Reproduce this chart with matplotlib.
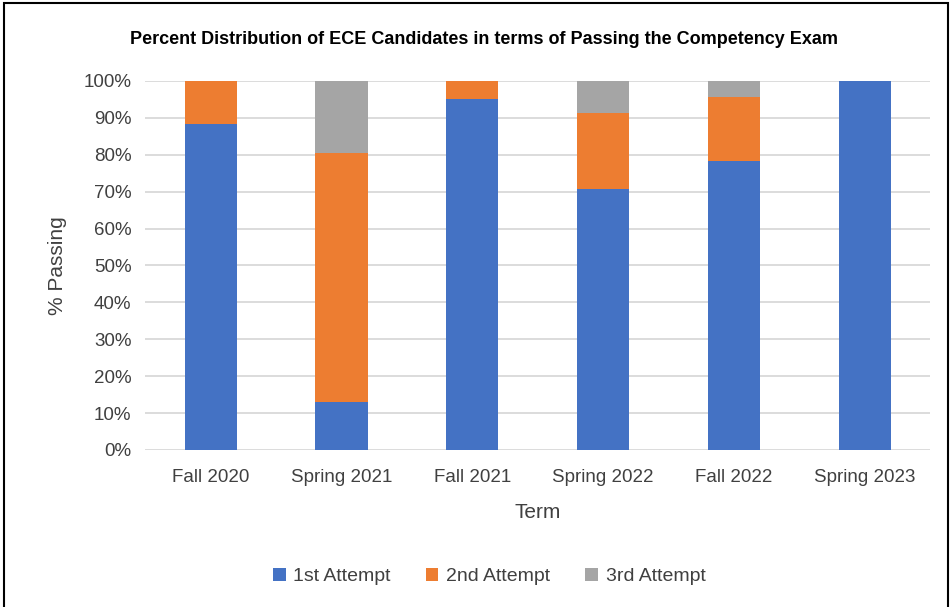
import matplotlib.pyplot as plt
from matplotlib.patches import Rectangle
from matplotlib.ticker import PercentFormatter

plt.rcParams['font.family'] = ['Liberation Sans', 'DejaVu Sans']

terms = ['Fall 2020', 'Spring 2021', 'Fall 2021', 'Spring 2022', 'Fall 2022', 'Spring 2023']
first = [88.2, 12.9, 95.0, 70.6, 78.3, 100.0]
second = [11.8, 67.7, 5.0, 20.6, 17.4, 0.0]
third = [0.0, 19.4, 0.0, 8.8, 4.3, 0.0]
series = ['1st Attempt', '2nd Attempt', '3rd Attempt']
colors = ['#4472C4', '#ED7D31', '#A5A5A5']

fig = plt.figure(figsize=(9.5, 6.07), dpi=100)
ax = fig.add_axes([0.153, 0.2587, 0.826, 0.608])

x = range(len(terms))
bottom = [0.0] * len(terms)
for vals, name, c in zip([first, second, third], series, colors):
    ax.bar(x, vals, 0.4, bottom=bottom, color=c, label=name, zorder=3)
    bottom = [b + v for b, v in zip(bottom, vals)]

ax.set_xlim(-0.5, len(terms) - 0.5)
ax.set_ylim(0, 100)
ax.set_yticks(range(0, 101, 10))
ax.yaxis.set_major_formatter(PercentFormatter(decimals=0))
ax.set_xticks(list(x))
ax.set_xticklabels(terms)
ax.tick_params(length=0, labelsize=13.5, colors='#404040')
ax.tick_params(axis='x', pad=14)
ax.tick_params(axis='y', pad=10)
ax.grid(axis='y', color='#D9D9D9', linewidth=1.3, zorder=0)
for s in ax.spines.values():
    s.set_visible(False)

ax.set_xlabel('Term', fontsize=15, color='#404040', labelpad=12)
ax.set_ylabel('% Passing', fontsize=15, color='#404040', labelpad=12)
fig.text(0.51, 0.935, 'Percent Distribution of ECE Candidates in terms of Passing the Competency Exam',
         ha='center', va='center', fontsize=13, fontweight='bold', color='black')

fig.legend(loc='center', bbox_to_anchor=(0.515, 0.05), ncol=3, frameon=False,
           fontsize=14, handlelength=0.65, handleheight=0.65, columnspacing=1.8,
           handletextpad=0.4, labelcolor='#404040')

fig.patches.append(Rectangle((0.004, -0.01), 0.994, 1.005, transform=fig.transFigure,
                             fill=False, edgecolor='black', linewidth=1.5))

fig.savefig('out.png', dpi=100)
